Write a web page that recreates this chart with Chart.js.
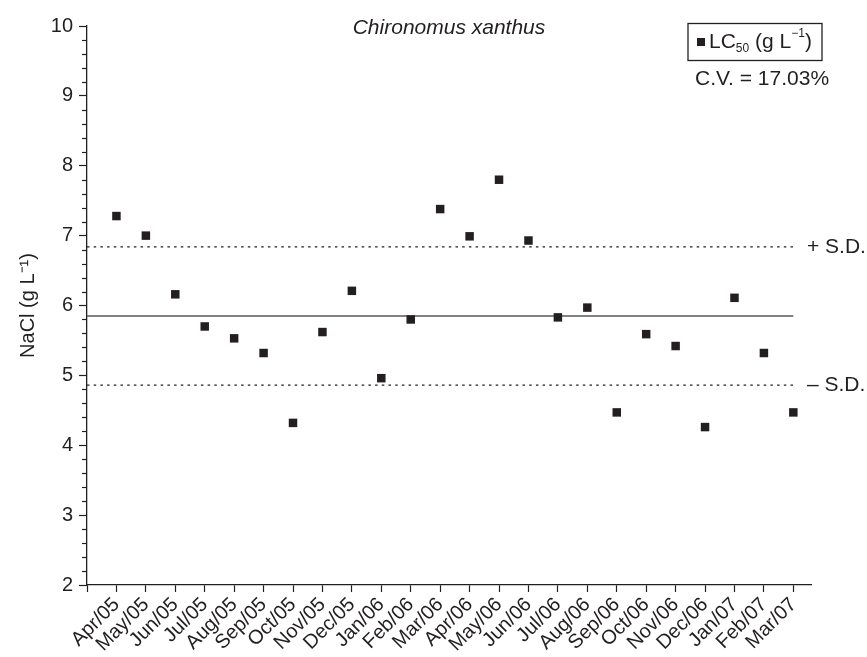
<!DOCTYPE html>
<html>
<head>
<meta charset="utf-8">
<script src="https://cdn.jsdelivr.net/npm/chart.js@4"></script>
<style>
    html, body { margin: 0; padding: 0; background: #fff; }
    #wrap { width: 867px; height: 657px; }
</style>
</head>
<body>
<div id="wrap"><canvas id="lc50"></canvas></div>
<script>
// data
const months = ['Apr/05', 'May/05', 'Jun/05', 'Jul/05', 'Aug/05', 'Sep/05', 'Oct/05', 'Nov/05',
    'Dec/05', 'Jan/06', 'Feb/06', 'Mar/06', 'Apr/06', 'May/06', 'Jun/06', 'Jul/06', 'Aug/06',
    'Sep/06', 'Oct/06', 'Nov/06', 'Dec/06', 'Jan/07', 'Feb/07', 'Mar/07'];
const lc50 = [7.28, 7.00, 6.16, 5.70, 5.53, 5.32, 4.32, 5.62, 6.21, 4.96, 5.80, 7.38,
    6.99, 7.80, 6.93, 5.83, 5.97, 4.47, 5.59, 5.42, 4.26, 6.11, 5.32, 4.47];
const meanValue = 5.85;
const sdValue = 0.99;
const yTicks = [2, 3, 4, 5, 6, 7, 8, 9, 10];

const ink = '#231f20';
const font = '"Liberation Sans", Arial, sans-serif';

const points = lc50.map((v, i) => ({ x: i, y: v }));
const hline = (v) => [{ x: -1, y: v }, { x: months.length - 1, y: v }];

// extra drawing: minor ticks, title, legend box, S.D. labels
const extras = {
    id: 'extras',
    afterDraw(chart) {
        const ctx = chart.ctx;
        const y = chart.scales.y;
        const area = chart.chartArea;
        ctx.save();

        // minor ticks on the y axis
        ctx.strokeStyle = ink;
        ctx.lineWidth = 1.2;
        for (let k = 0; k <= 40; k++) {
            if (k % 5 === 0) continue;
            const py = Math.round(y.getPixelForValue(yTicks[0] + k * 0.2)) + 0.5;
            ctx.beginPath();
            ctx.moveTo(area.left - 5, py);
            ctx.lineTo(area.left, py);
            ctx.stroke();
        }

        ctx.fillStyle = ink;
        ctx.textBaseline = 'middle';

        // title
        ctx.font = 'italic 21px ' + font;
        ctx.textAlign = 'center';
        ctx.fillText('Chironomus xanthus', (area.left + area.right) / 2, 28);

        // S.D. labels
        ctx.font = '21px ' + font;
        ctx.textAlign = 'left';
        ctx.fillText('+ S.D.', 807, y.getPixelForValue(meanValue + sdValue));
        ctx.fillText('\u2013 S.D.', 807, y.getPixelForValue(meanValue - sdValue));

        // legend box
        ctx.lineWidth = 1.3;
        ctx.strokeRect(688, 23.5, 134, 37);
        ctx.fillRect(697, 38, 8, 8);
        let x = 709;
        const ly = 42;
        ctx.font = '21px ' + font;
        ctx.fillText('LC', x, ly);
        x += ctx.measureText('LC').width;
        ctx.font = '12px ' + font;
        ctx.fillText('50', x, ly + 7);
        x += ctx.measureText('50').width;
        ctx.font = '21px ' + font;
        ctx.fillText(' (g L', x, ly);
        x += ctx.measureText(' (g L').width;
        ctx.font = '12px ' + font;
        ctx.fillText('\u22121', x, ly - 8);
        x += ctx.measureText('\u22121').width;
        ctx.font = '21px ' + font;
        ctx.fillText(')', x, ly);

        ctx.fillText('C.V. = 17.03%', 695, 79);
        ctx.restore();
    }
};

new Chart(document.getElementById('lc50'), {
    type: 'scatter',
    data: {
        datasets: [
            {
                label: 'LC50',
                data: points,
                pointStyle: 'rect',
                pointRadius: 6,
                pointHoverRadius: 6,
                backgroundColor: ink,
                borderColor: ink,
                borderWidth: 0,
                showLine: false
            },
            {
                label: 'mean',
                type: 'line',
                data: hline(meanValue),
                borderColor: '#58595b',
                borderWidth: 1.6,
                pointRadius: 0
            },
            {
                label: '+SD',
                type: 'line',
                data: hline(meanValue + sdValue),
                borderColor: ink,
                borderWidth: 1.3,
                borderDash: [2.5, 4.2],
                pointRadius: 0
            },
            {
                label: '-SD',
                type: 'line',
                data: hline(meanValue - sdValue),
                borderColor: ink,
                borderWidth: 1.3,
                borderDash: [2.5, 4.2],
                pointRadius: 0
            }
        ]
    },
    options: {
        responsive: true,
        maintainAspectRatio: false,
        animation: false,
        layout: { padding: { left: 0, right: 56, top: 26, bottom: 0 } },
        plugins: {
            legend: { display: false },
            title: { display: false },
            tooltip: { enabled: false }
        },
        scales: {
            x: {
                type: 'linear',
                min: -1,
                max: 23.6,
                afterFit: (scale) => { scale.height = 72; },
                border: { display: true, color: ink, width: 1.3 },
                grid: { drawOnChartArea: false, drawTicks: true, tickLength: 7, color: ink, tickWidth: 1.2 },
                ticks: {
                    stepSize: 1,
                    includeBounds: false,
                    autoSkip: false,
                    maxRotation: 45,
                    minRotation: 45,
                    padding: 1,
                    color: ink,
                    font: { family: font, size: 20 },
                    callback: (v) => months[Math.round(v)] ?? ''
                }
            },
            y: {
                min: yTicks[0],
                max: yTicks[yTicks.length - 1],
                afterFit: (scale) => { scale.width = 87; },
                border: { display: true, color: ink, width: 1.3 },
                grid: { drawOnChartArea: false, drawTicks: true, tickLength: 8, color: ink, tickWidth: 1.2 },
                ticks: {
                    stepSize: 1,
                    padding: 6,
                    color: ink,
                    font: { family: font, size: 20 }
                },
                title: {
                    display: true,
                    text: 'NaCl (g L\u207B\u00B9)',
                    color: ink,
                    font: { family: font, size: 20 },
                    padding: { top: 16, bottom: 0 }
                }
            }
        }
    },
    plugins: [extras]
});
</script>
</body>
</html>
